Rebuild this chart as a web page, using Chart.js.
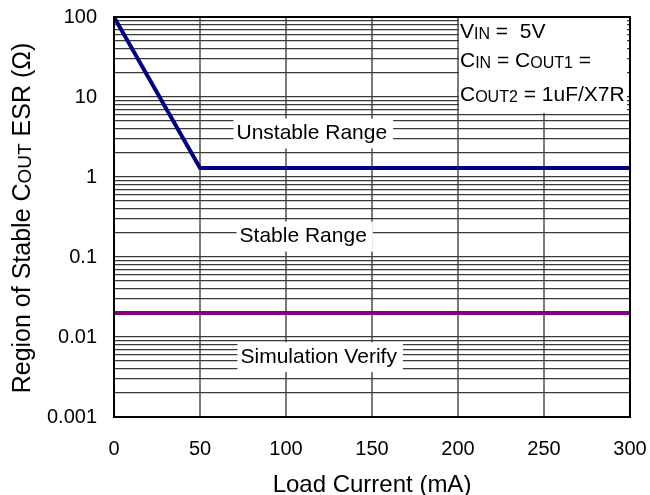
<!DOCTYPE html>
<html>
<head>
<meta charset="utf-8">
<script src="https://cdn.jsdelivr.net/npm/chart.js@4.4.1/dist/chart.umd.min.js"></script>
<style>
  html, body { margin: 0; padding: 0; background: #fff; }
  #wrap { width: 650px; height: 495px; }
</style>
</head>
<body>
<div id="wrap"><canvas id="c" width="650" height="495"></canvas></div>
<script>
// ---- data ----
const loadCurrent = [0, 50, 300];          // mA
const esrBoundary = [100, 1.3, 1.3];       // ohm
const simCurrent = [0, 300];               // mA
const simESR = [0.02, 0.02];               // ohm
const xTickValues = [0, 50, 100, 150, 200, 250, 300];
const yDecades = [0.001, 0.01, 0.1, 1, 10, 100];
const yDecadeLabels = ['0.001', '0.01', '0.1', '1', '10', '100'];

// text annotations (data coordinates)
const regionLabels = [
  { text: 'Unstable Range', x: 115, y: 3.5 },
  { text: 'Stable Range', x: 110, y: 0.18 },
  { text: 'Simulation Verify', x: 119, y: 0.0056 }
];
const condLines = [
  [['V', 0], ['IN', 1], [' =  5V', 0]],
  [['C', 0], ['IN', 1], [' = C', 0], ['OUT1', 1], [' =', 0]],
  [['C', 0], ['OUT2', 1], [' = 1uF/X7R', 0]]
];
const yTitleParts = [['Region of Stable C', 0], ['OUT', 1], [' ESR (\u03A9)', 0]];

const FONT = "'Liberation Sans', Arial, sans-serif";

function richWidth(ctx, parts, size) {
  let w = 0;
  parts.forEach(([t, s]) => {
    ctx.font = (s ? Math.round(size * 0.74) : size) + 'px ' + FONT;
    w += ctx.measureText(t).width;
  });
  return w;
}
function drawRich(ctx, parts, x, y, size) {
  let cx = x;
  parts.forEach(([t, s]) => {
    ctx.font = (s ? Math.round(size * 0.74) : size) + 'px ' + FONT;
    ctx.fillText(t, cx, y + (s ? 1 : 0));
    cx += ctx.measureText(t).width;
  });
}

const yTickSet = [];
yDecades.slice(0, -1).forEach(d => { for (let m = 1; m <= 9; m++) yTickSet.push(+(d * m).toPrecision(3)); });
yTickSet.push(100);

const annot = {
  id: 'annot',
  afterDatasetsDraw(chart) {
    const { ctx, chartArea: a, scales: { x, y } } = chart;
    ctx.save();
    // region labels with white background
    ctx.textBaseline = 'middle';
    ctx.textAlign = 'center';
    regionLabels.forEach(l => {
      ctx.font = '21px ' + FONT;
      const px = x.getPixelForValue(l.x), py = y.getPixelForValue(l.y);
      const w = ctx.measureText(l.text).width;
      ctx.fillStyle = '#fff';
      ctx.fillRect(px - w / 2 - 3, py - 15, w + 9, 30);
      ctx.fillStyle = '#000';
      ctx.fillText(l.text, px, py);
    });
    // conditions box
    const bx = x.getPixelForValue(200);
    ctx.fillStyle = '#fff';
    ctx.fillRect(bx + 1, a.top + 1, a.right - bx - 4, 95);
    ctx.fillStyle = '#000';
    ctx.textAlign = 'left';
    ctx.textBaseline = 'alphabetic';
    const baselines = [21, 50, 84];
    condLines.forEach((parts, i) => drawRich(ctx, parts, bx + 2, a.top + baselines[i], 21));
    // frame
    ctx.strokeStyle = '#000';
    ctx.lineWidth = 2;
    ctx.strokeRect(a.left, a.top, a.right - a.left, a.bottom - a.top);
    // y title
    ctx.save();
    const size = 25;
    const tw = richWidth(ctx, yTitleParts, size);
    ctx.translate(30, (a.top + a.bottom) / 2 + 1);
    ctx.rotate(-Math.PI / 2);
    ctx.textAlign = 'left';
    drawRich(ctx, yTitleParts, -tw / 2, 0, size);
    ctx.restore();
    ctx.restore();
  }
};

new Chart(document.getElementById('c'), {
  type: 'line',
  data: {
    datasets: [
      {
        data: loadCurrent.map((v, i) => ({ x: v, y: esrBoundary[i] })),
        borderColor: '#000080', borderWidth: 4, pointRadius: 0, tension: 0, fill: false
      },
      {
        data: simCurrent.map((v, i) => ({ x: v, y: simESR[i] })),
        borderColor: '#800080', borderWidth: 4, pointRadius: 0, tension: 0, fill: false
      }
    ]
  },
  options: {
    responsive: false,
    animation: false,
    devicePixelRatio: 1,
    layout: { padding: { top: 17, right: 20, left: 0, bottom: 0 } },
    plugins: { legend: { display: false }, tooltip: { enabled: false } },
    scales: {
      x: {
        type: 'linear', min: 0, max: 300,
        afterBuildTicks: s => { s.ticks = xTickValues.map(v => ({ value: v })); },
        afterFit: s => { s.height = 78; s.paddingLeft = 0; s.paddingRight = 0; },
        grid: { color: '#7a7a7a', lineWidth: 2, drawTicks: false },
        border: { display: true, color: '#000', width: 2 },
        ticks: { color: '#000', font: { family: FONT, size: 20 }, padding: 20, maxRotation: 0 },
        title: { display: true, text: 'Load Current (mA)', color: '#000', font: { family: FONT, size: 24, lineHeight: 1 }, padding: { top: 8, bottom: -2 } }
      },
      y: {
        type: 'logarithmic', min: 0.001, max: 100,
        afterBuildTicks: s => { s.ticks = yTickSet.map(v => ({ value: v })); },
        afterFit: s => { s.width = 114; s.paddingTop = 0; s.paddingBottom = 0; },
        grid: { color: '#3a3a3a', lineWidth: 1.3, drawTicks: false },
        border: { display: true, color: '#000', width: 2 },
        ticks: {
          color: '#000', font: { family: FONT, size: 20 }, padding: 17, autoSkip: false,
          callback: v => { const i = yDecades.findIndex(d => Math.abs(d - v) / d < 1e-6); return i >= 0 ? yDecadeLabels[i] : ''; }
        }
      }
    }
  },
  plugins: [annot]
});
</script>
</body>
</html>
